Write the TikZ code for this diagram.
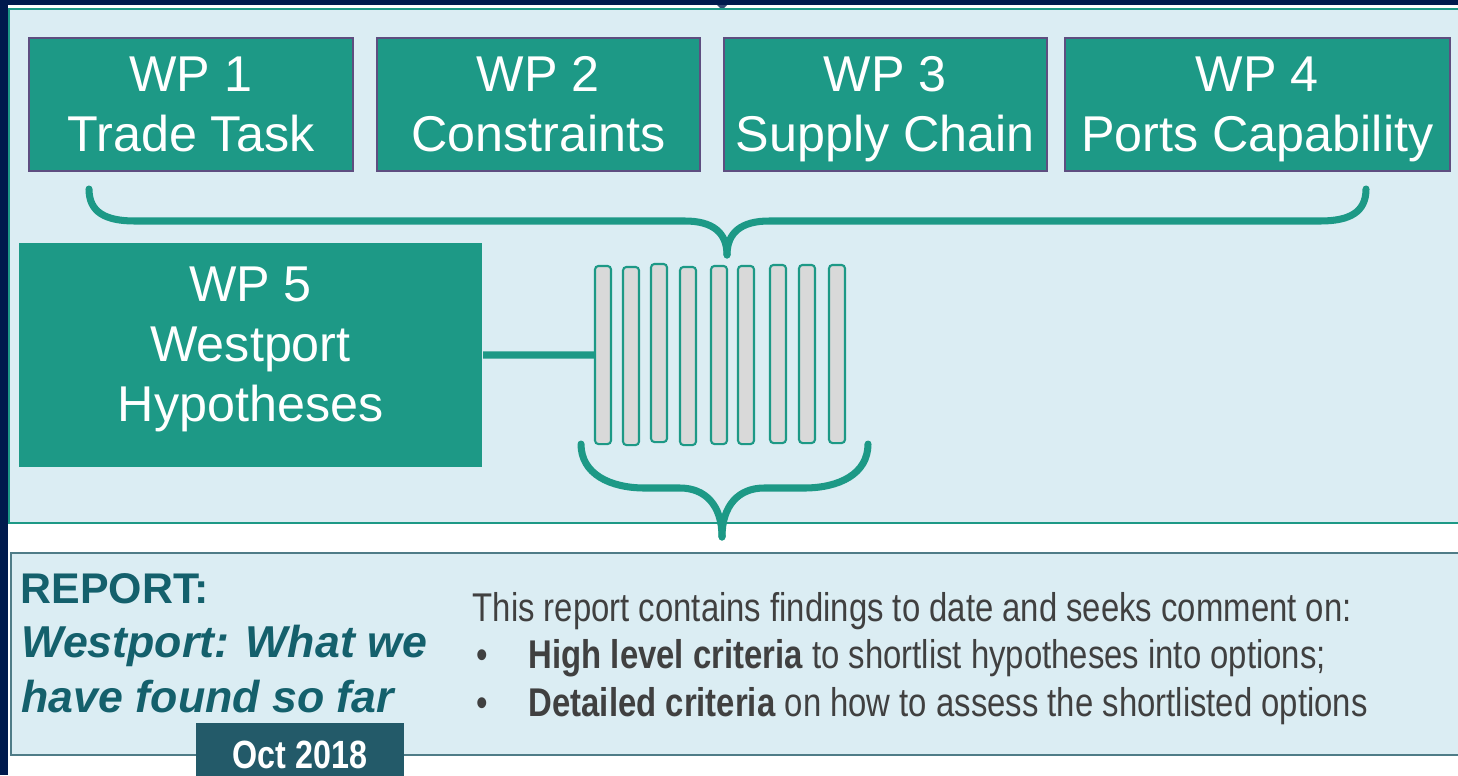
\documentclass[tikz,border=0pt]{standalone}
\usepackage{fontspec}
\setmainfont{Liberation Sans}
\newfontfamily\narrowfont[FakeStretch=0.82]{Liberation Sans}
\usetikzlibrary{positioning}
\definecolor{navy}{RGB}{0,26,77}
\definecolor{panelblue}{RGB}{219,237,243}
\definecolor{wpteal}{RGB}{29,153,134}
\definecolor{boxedge}{RGB}{94,78,128}
\definecolor{bargray}{RGB}{217,217,217}
\definecolor{reportedge}{RGB}{79,124,135}
\definecolor{reportteal}{RGB}{20,96,108}
\definecolor{datebg}{RGB}{35,90,105}
\definecolor{bodygray}{RGB}{64,64,64}

\begin{document}
\begin{tikzpicture}[
  x=0.01cm, y=-0.01cm,      % one unit = one pixel of the slide
  wpbox/.style={draw=boxedge, line width=0.5pt, fill=wpteal, text=white, align=center,
    font=\fontsize{14.3pt}{17.07pt}\selectfont, minimum height=1.33cm, inner sep=0pt, text depth=0pt},
  bar/.style={draw=wpteal, line width=0.6pt, fill=bargray, rounded corners=1pt,
    minimum width=0.16cm, minimum height=1.78cm, inner sep=0pt},
  brace/.style={draw=wpteal, line width=2pt, line cap=round},
  link/.style={draw=wpteal, line width=2pt},
  reporthead/.style={anchor=base west, inner sep=0pt, text=reportteal, font=\fontsize{12.2pt}{15pt}\selectfont\bfseries},
  reportline/.style={anchor=base west, inner sep=0pt, text=reportteal, font=\fontsize{12.7pt}{15pt}\selectfont\bfseries\itshape},
  bodyline/.style={anchor=base west, inner sep=0pt, text=bodygray, font=\narrowfont\fontsize{11.4pt}{14pt}\selectfont},
  datebox/.style={fill=datebg, text=white, inner sep=0pt, minimum width=2.08cm, minimum height=0.53cm,
    text height=0.39cm, font=\narrowfont\fontsize{11.2pt}{13pt}\selectfont\bfseries}
]
  \useasboundingbox (0,0) rectangle (1458,775);
  % slide frame
  \fill[white] (0,0) rectangle (1458,775);
  \fill[navy] (0,0) rectangle (1458,5);
  \fill[navy] (0,0) rectangle (8,775);
  \fill[navy!80!white] (717,5) -- (727,5) -- (722,10) -- cycle;
  \filldraw[fill=panelblue, draw=wpteal, line width=0.6pt] (9,9) rectangle (1464,523);
  \filldraw[fill=panelblue, draw=reportedge, line width=0.8pt] (11,553) rectangle (1464,755);

  % work packages
  \node[wpbox, anchor=north west, minimum width=3.24cm] (wp1) at (28,37) {WP 1\\Trade Task};
  \node[wpbox, right=0.22cm of wp1, minimum width=3.23cm] (wp2) {WP 2\\Constraints};
  \node[wpbox, right=0.22cm of wp2, minimum width=3.23cm] (wp3) {WP 3\\Supply Chain};
  \node[wpbox, right=0.16cm of wp3, minimum width=3.85cm] (wp4) {WP 4\\Ports Capability};
  \node[wpbox, draw=none, anchor=north west, minimum width=4.63cm, minimum height=2.24cm,
    text depth=0.22cm] (wp5) at (18,242) {WP 5\\Westport\\Hypotheses};

  % brace gathering WP 1-4
  \draw[brace] (89,189) .. controls (89,212) and (105,221) .. (135,221) -- (685,221)
    .. controls (712,221) and (727,232) .. (727,255);
  \draw[brace] (1366,189) .. controls (1366,212) and (1350,221) .. (1320,221) -- (769,221)
    .. controls (742,221) and (727,232) .. (727,255);

  % hypotheses
  \node[bar] (bar1) at (603,355) {};
  \node[bar] (bar2) at (631,356) {};
  \node[bar] (bar3) at (659,353) {};
  \node[bar] (bar4) at (688,356) {};
  \node[bar] (bar5) at (719,355) {};
  \node[bar] (bar6) at (746,355) {};
  \node[bar] (bar7) at (778,354) {};
  \node[bar] (bar8) at (807,354) {};
  \node[bar] (bar9) at (837,354) {};
  \draw[link] (wp5) -- (bar1);

  % brace down to the report
  \draw[brace] (581,444) .. controls (581,474) and (610,488) .. (645,488) -- (680,488)
    .. controls (705,488) and (722,505) .. (722,537);
  \draw[brace] (868,444) .. controls (868,474) and (839,488) .. (804,488) -- (764,488)
    .. controls (739,488) and (722,505) .. (722,537);

  % report
  \node[reporthead] (rephead) at (20,603) {REPORT:};
  \node[reportline] (reptitle1) at (21,657) {Westport: What we};
  \node[reportline] (reptitle2) at (21,712) {have found so far};
  \node[datebox, anchor=north west] (date) at (195,722) {Oct 2018};

  \node[bodyline] (intro) at (472,621) {This report contains findings to date and seeks comment on:};
  \node[bodyline] (item1) at (476,668) {\makebox[0.52cm][l]{\textbullet}\textbf{High level criteria} to shortlist hypotheses into options;};
  \node[bodyline] (item2) at (476,716) {\makebox[0.52cm][l]{\textbullet}\textbf{Detailed criteria} on how to assess the shortlisted options};
\end{tikzpicture}
\end{document}
